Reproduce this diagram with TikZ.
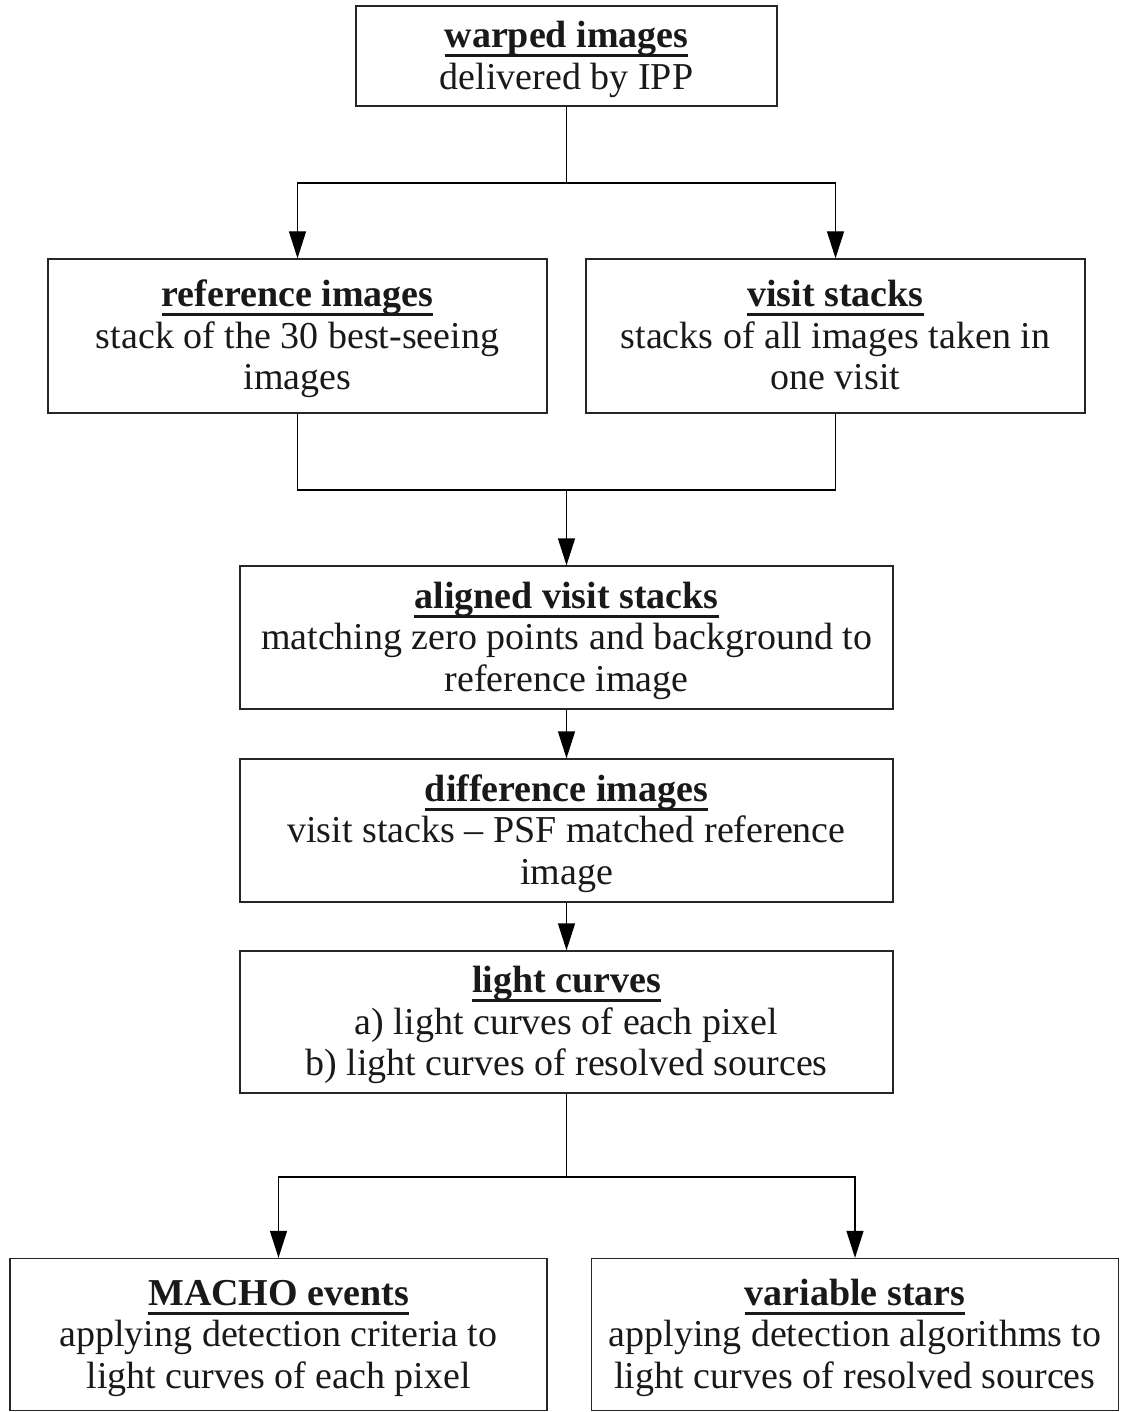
\documentclass[tikz,border=0pt]{standalone}
\usepackage{fontspec}
\setmainfont{Liberation Serif}
\usetikzlibrary{arrows.meta}
\newcommand\ttl[1]{\rule{0pt}{37pt}\setbox0\hbox{\bfseries #1}\rlap{\rule[-9.5pt]{\wd0}{3pt}}\box0}
\newcommand\bxl{\strut}
\tikzset{
  flowbox/.style={draw=black!85, line width=1.3pt, inner sep=0pt, align=center,
    font=\fontsize{38}{41.5}\selectfont, text=black!90},
  conn/.style={draw=black, line width=1.3pt},
  arr/.style={conn, -{Triangle[length=27pt,width=17pt]}},
}
\begin{document}
\begin{tikzpicture}[x=1pt,y=-1pt]
\useasboundingbox (0,0) rectangle (1121,1412);
% boxes
\node[flowbox, minimum width=421pt, minimum height=100pt] (w) at (566.5,56)
  {\ttl{warped images}\\\bxl delivered by IPP};
\node[flowbox, minimum width=499pt, minimum height=154pt] (r) at (297.5,336)
  {\ttl{reference images}\\\bxl stack of the 30 best-seeing\\\bxl images};
\node[flowbox, minimum width=499pt, minimum height=154pt] (v) at (835.5,336)
  {\ttl{visit stacks}\\\bxl stacks of all images taken in\\\bxl one visit};
\node[flowbox, minimum width=653pt, minimum height=143pt] (a) at (566.5,637.5)
  {\ttl{aligned visit stacks}\\\bxl matching zero points and background to\\\bxl reference image};
\node[flowbox, minimum width=653pt, minimum height=143pt] (d) at (566.5,830.5)
  {\ttl{difference images}\\\bxl visit stacks -- PSF matched reference\\\bxl image};
\node[flowbox, minimum width=653pt, minimum height=142pt] (l) at (566.5,1022)
  {\ttl{light curves}\\\bxl a) light curves of each pixel\\\bxl b) light curves of resolved sources};
\node[flowbox, minimum width=537pt, minimum height=152pt] (m) at (278.5,1334.5)
  {\ttl{MACHO events}\\\bxl applying detection criteria to\\\bxl light curves of each pixel};
\node[flowbox, minimum width=527pt, minimum height=152pt] (s) at (855,1334.5)
  {\ttl{variable stars}\\\bxl applying detection algorithms to\\\bxl light curves of resolved sources};
% junctions
\coordinate (wj) at (566.5,183);
\coordinate (mj) at (566.5,490);
\coordinate (sj) at (566.5,1177);
% connectors
\draw[conn] (w.south) -- (wj);
\draw[arr] (wj) -| (r.north);
\draw[arr] (wj) -| (v.north);
\draw[conn] (r.south) |- (mj) -| (v.south);
\draw[arr] (mj) -- (a.north);
\draw[arr] (a.south) -- (d.north);
\draw[arr] (d.south) -- (l.north);
\draw[conn] (l.south) -- (sj);
\draw[arr] (sj) -| (m.north);
\draw[arr] (sj) -| (s.north);
\end{tikzpicture}
\end{document}
